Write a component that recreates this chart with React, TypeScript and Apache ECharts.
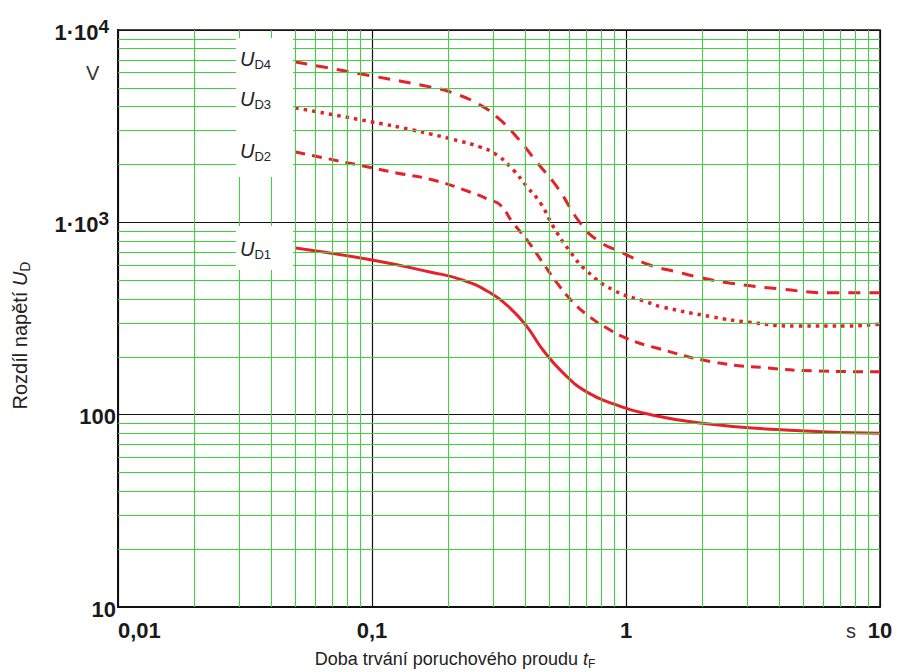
import React, { useEffect, useRef } from "react";
import * as echarts from "echarts";

// ---- axis extents / tick values ----
const X_MIN = 0.01;
const X_MAX = 10;
const Y_MIN = 10;
const Y_MAX = 10000;
const xDecades = [0.01, 0.1, 1];
const yDecades = [10, 100, 1000];
const minorMultipliers = [2, 3, 4, 5, 6, 7, 8, 9];
const xTickLabels: Record<number, string> = { [-2]: "0,01", [-1]: "0,1", [0]: "1", [1]: "10" };

// ---- series data (t in s, U in V) ----
const t1 = [0.05, 0.1, 0.169, 0.228, 0.292, 0.349, 0.408, 0.471, 0.565, 0.702, 0.922, 1.167, 1.95, 4.4, 10];
const u1 = [736, 637, 552, 501, 430, 359, 286, 217, 165, 131, 112, 102, 90.6, 83, 80];
const t2 = [0.05, 0.1, 0.125, 0.174, 0.243, 0.29, 0.32, 0.359, 0.408, 0.471, 0.535, 0.618, 0.721, 0.84, 1, 1.32, 2.2, 3.6, 5.45, 10];
const u2 = [2320, 1920, 1806, 1660, 1438, 1310, 1230, 993, 809, 615, 484, 385, 322, 282, 250, 222, 188, 175, 169, 167];
const t3 = [0.05, 0.1, 0.145, 0.169, 0.208, 0.266, 0.31, 0.36, 0.408, 0.46, 0.52, 0.6, 0.7, 0.89, 1.21, 1.39, 2.2, 3.0, 4.7, 7.4, 10];
const u3 = [3936, 3327, 3020, 2884, 2700, 2466, 2240, 1870, 1528, 1262, 940, 710, 560, 445, 385, 363, 322, 303, 289, 289, 296];
const t4 = [0.05, 0.1, 0.169, 0.208, 0.266, 0.32, 0.38, 0.445, 0.535, 0.66, 0.77, 0.97, 1.24, 1.59, 2.0, 2.55, 4.0, 6.5, 10];
const u4 = [6820, 5770, 5060, 4710, 4080, 3405, 2680, 2060, 1528, 993, 809, 693, 600, 552, 514, 484, 451, 430, 430];

const FONT = "'Liberation Sans', Arial, sans-serif";
const RED = "#e5222b";
const GREEN = "#3fd23f";

export default function App() {
  const ref = useRef<HTMLDivElement>(null);

  useEffect(() => {
    if (!ref.current) return;
    const chart = echarts.init(ref.current, null, { renderer: "svg" });

    const vLines: any[] = [];
    xDecades.forEach((d) => minorMultipliers.forEach((m) => vLines.push({ xAxis: d * m })));
    const hLines: any[] = [];
    yDecades.forEach((d) => minorMultipliers.forEach((m) => hLines.push({ yAxis: d * m })));

    const curves = [
      { name: "D1", t: t1, u: u1, type: "solid", width: 3, pad: [13, 22, 9, 4] },
      { name: "D2", t: t2, u: u2, type: [10, 7], width: 3, pad: [14, 22, 14, 4] },
      { name: "D3", t: t3, u: u3, type: [3.5, 5], width: 3.5, pad: [4, 22, 20, 4] },
      { name: "D4", t: t4, u: u4, type: [12, 9], width: 3, pad: [11, 22, 15, 4] },
    ];

    const richLabel = {
      u: { fontFamily: FONT, fontSize: 20, fontStyle: "italic", color: "#222", verticalAlign: "top", lineHeight: 22 },
      d: { fontFamily: FONT, fontSize: 13, color: "#222", verticalAlign: "bottom", lineHeight: 12 },
    };

    const nameRich = (size: number) => ({
      n: { fontFamily: FONT, fontSize: size, color: "#222", verticalAlign: "top", lineHeight: size + 2 },
      u: { fontFamily: FONT, fontSize: size, fontStyle: "italic", color: "#222", verticalAlign: "top", lineHeight: size + 2 },
      d: { fontFamily: FONT, fontSize: Math.round(size * 0.68), color: "#222", verticalAlign: "bottom", lineHeight: Math.round(size * 0.68) },
    });

    const option: any = {
      animation: false,
      backgroundColor: "#ffffff",
      grid: {
        left: 118,
        right: 24,
        top: 30,
        bottom: 65,
        outerBoundsMode: "none",
        containLabel: false,
        show: true,
        borderColor: "#111",
        borderWidth: 1.5,
        backgroundColor: "transparent",
      },
      xAxis: {
        type: "log",
        logBase: 10,
        min: X_MIN,
        max: X_MAX,
        name: "{n|Doba trvání poruchového proudu }{u|t}{d|F}",
        nameLocation: "middle",
        nameGap: 43,
        nameTextStyle: { padding: [0, 88, 0, 0], rich: nameRich(18) },
        axisLine: { show: true, lineStyle: { color: "#111", width: 2 } },
        axisTick: { show: false },
        splitLine: { show: true, lineStyle: { color: "#111", width: 1.2 } },
        axisLabel: {
          margin: 12,
          alignMinLabel: "left",
          fontFamily: FONT,
          fontSize: 22,
          fontWeight: "bold",
          color: "#1a1a1a",
          formatter: (v: number) => xTickLabels[Math.round(Math.log10(v))] ?? "",
        },
      },
      yAxis: {
        type: "log",
        logBase: 10,
        min: Y_MIN,
        max: Y_MAX,
        name: "{n|Rozdíl napětí }{u|U}{d|D}",
        nameLocation: "middle",
        nameRotate: 90,
        nameGap: 86,
        nameTextStyle: { padding: [0, 34, 0, 0], rich: nameRich(20) },
        axisLine: { show: true, lineStyle: { color: "#111", width: 2 } },
        axisTick: { show: false },
        splitLine: { show: true, lineStyle: { color: "#111", width: 1.2 } },
        axisLabel: {
          margin: 2,
          formatter: (v: number) => {
            const e = Math.round(Math.log10(v));
            if (e >= 3) return "{b|1·10}{s|" + e + "}";
            return "{b|" + Math.round(Math.pow(10, e)) + "}";
          },
          rich: {
            b: { fontFamily: FONT, fontSize: 22, fontWeight: "bold", color: "#1a1a1a", verticalAlign: "bottom", lineHeight: 26 },
            s: { fontFamily: FONT, fontSize: 19, fontWeight: "bold", color: "#1a1a1a", verticalAlign: "top", lineHeight: 15, padding: [0, 7, 0, 0] },
          },
        },
      },
      graphic: [
        { type: "text", left: 86, top: 63, style: { text: "V", fontFamily: FONT, fontSize: 20, fill: "#333" } },
        { type: "text", left: 846, top: 621, style: { text: "s", fontFamily: FONT, fontSize: 20, fill: "#333" } },
      ],
      series: [
        {
          type: "line",
          name: "grid",
          data: [],
          z: 1,
          silent: true,
          markLine: {
            silent: true,
            symbol: "none",
            label: { show: false },
            lineStyle: { color: GREEN, width: 1, type: "solid" },
            data: [...vLines, ...hLines],
          },
        },
        ...curves.map((c) => ({
          type: "line",
          name: c.name,
          z: 3,
          smooth: 0.5,
          smoothConstraint: false,
          showSymbol: false,
          symbol: "none",
          silent: true,
          lineStyle: { color: RED, width: c.width, type: c.type },
          data: c.t.map((t, i) => [t, c.u[i]]),
          markPoint: {
            silent: true,
            symbol: "circle",
            symbolSize: 1,
            itemStyle: { color: "transparent" },
            data: [
              {
                coord: [c.t[0], c.u[0]],
                label: {
                  show: true,
                  position: "left",
                  distance: 2,
                  backgroundColor: "#ffffff",
                  padding: c.pad,
                  formatter: "{u|U}{d|" + c.name + "}",
                  rich: richLabel,
                },
              },
            ],
          },
        })),
      ],
    };

    chart.setOption(option);
    return () => chart.dispose();
  }, []);

  return (
    <div
      ref={ref}
      style={{ position: "fixed", left: 0, top: 0, width: 904, height: 672, background: "#fff" }}
    />
  );
}
